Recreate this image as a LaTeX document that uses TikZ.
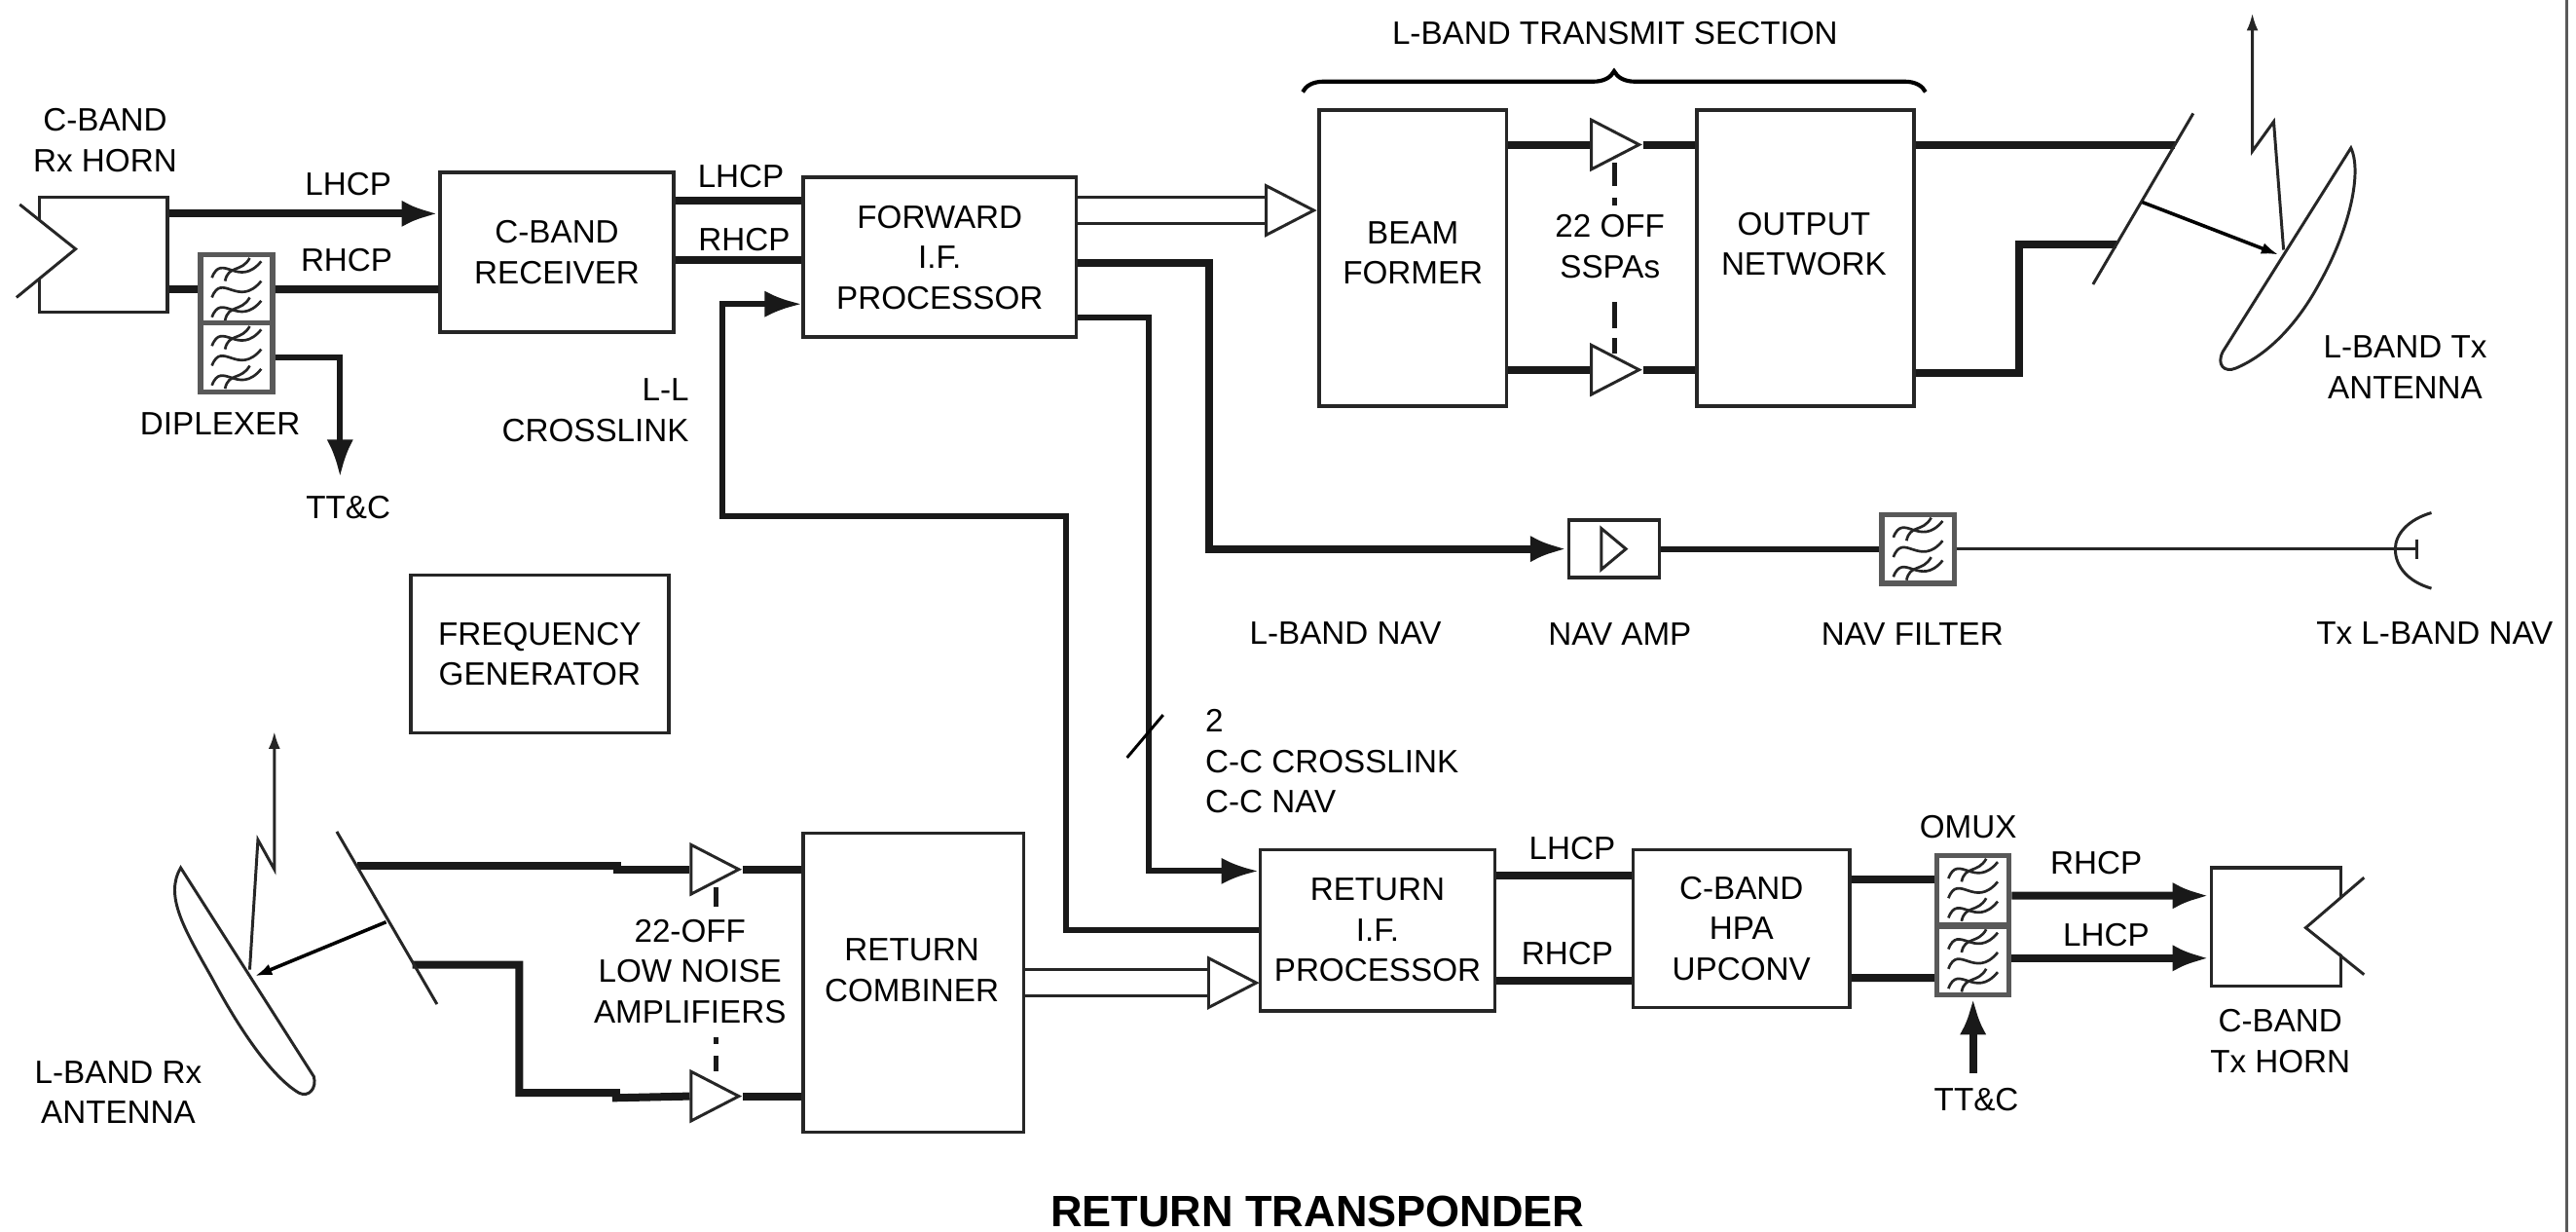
\documentclass[tikz,border=0pt]{standalone}
\usepackage{fontspec}
\setmainfont{Liberation Sans}
\usetikzlibrary{arrows.meta,calc,decorations.pathreplacing,shapes.geometric}
\tikzset{
  lbl/.style={font=\fontsize{5.6}{7}\selectfont,align=center,inner sep=0pt},
  blockbox/.style={lbl,draw=black!85,line width=.6pt},
  bus/.style={line width=1.35pt,draw=black!90},
  medbus/.style={line width=1pt,draw=black!90},
  thinline/.style={line width=.5pt,draw=black!85},
  bigtip/.style={-{Latex[length=6.4pt,width=4.6pt]}},
  smalltip/.style={-{Latex[length=3pt,width=2pt]}},
  amptri/.style={isosceles triangle,isosceles triangle stretches,draw=black!85,line width=.5pt,fill=white,minimum height=2.9mm,minimum width=3mm,inner sep=0pt,anchor=apex},
  ganged/.style={line width=.9pt,draw=black!90},
  filterbox/.style={draw=black!65,line width=.9pt,minimum width=4.4mm,minimum height=4.2mm,inner sep=0pt,fill=white,
    path picture={
      \foreach \yy in {-12,0,12}{
        \draw[black!85,line width=.45pt,shift={(path picture bounding box.center)}] (-15,\yy+5) .. controls (-9,\yy-11) and (1,\yy+12) .. (15,\yy-5);
      }
      \foreach \yy in {-12,12}{
        \draw[black!85,line width=.45pt,shift={(path picture bounding box.center)}] (-7,\yy+7) .. controls (-5,\yy-3) and (3,\yy+2) .. (8,\yy-7);
      }
    }},
}
\begin{document}
\begin{tikzpicture}[x=0.1mm,y=-0.1mm,>=Latex]
\useasboundingbox (0,0) rectangle (1568,749.6);
\node[blockbox,minimum width=7.8mm,minimum height=7mm] (rxhorn) at (63,155) {};
\node[blockbox,minimum width=14.2mm,minimum height=9.7mm] (recv) at (339,153.5) {C-BAND\\RECEIVER};
\node[blockbox,minimum width=16.6mm,minimum height=9.7mm] (fwd) at (572,156.5) {FORWARD\\I.F.\\PROCESSOR};
\node[blockbox,minimum width=11.4mm,minimum height=18mm] (beamf) at (860,157) {};
\node[blockbox,minimum width=13.2mm,minimum height=18mm] (outnet) at (1099,157) {};
\node[blockbox,minimum width=15.7mm,minimum height=9.6mm] (freqgen) at (328.5,398) {FREQUENCY\\GENERATOR};
\node[blockbox,minimum width=13.4mm,minimum height=18.2mm] (combiner) at (556,598) {};
\node[blockbox,minimum width=14.3mm,minimum height=9.8mm] (retif) at (838.5,566) {RETURN\\I.F.\\PROCESSOR};
\node[blockbox,minimum width=13.2mm,minimum height=9.6mm] (hpa) at (1060,565) {C-BAND\\HPA\\UPCONV};
\node[blockbox,minimum width=7.9mm,minimum height=7.2mm] (txhorn) at (1385.5,564) {};
\node[blockbox,minimum width=5.5mm,minimum height=3.5mm] (navamp) at (982.5,334) {};
\node[lbl] (beamftxt) at (860,154) {BEAM\\FORMER};
\node[lbl] (outnettxt) at (1098,148.5) {OUTPUT\\NETWORK};
\node[lbl] (combinertxt) at (555,590.5) {RETURN\\COMBINER};
\node[filterbox] (dipu) at (144,176) {};
\node[filterbox] (dipl) at (144,217.5) {};
\node[filterbox] (navfilt) at (1167.5,334) {};
\node[filterbox] (omuxu) at (1201,541.5) {};
\node[filterbox] (omuxl) at (1201,584.5) {};
\node[amptri] (ssp1) at (1000,88) {};
\node[amptri] (ssp2) at (1000,225) {};
\node[amptri] (lna1) at (452,529) {};
\node[amptri] (lna2) at (452,667) {};
\node[amptri] (fwdtip) at (802,128) {};
\node[amptri] (rettip) at (767,598) {};
\node[amptri,minimum height=1.5mm,minimum width=2.5mm] (navtri) at (992,334) {};
\node[lbl] (rxhornlbl) at (64,85.5) {C-BAND\\Rx HORN};
\node[lbl] (lhcpa) at (212,112) {LHCP};
\node[lbl] (rhcpa) at (211,158) {RHCP};
\node[lbl] (lhcpb) at (451,107) {LHCP};
\node[lbl] (rhcpb) at (453,146) {RHCP};
\node[lbl] (diplexerlbl) at (134,258) {DIPLEXER};
\node[lbl] (ttca) at (212,309) {TT\&C};
\node[lbl,align=right,anchor=east] (lllbl) at (420,249.5) {L-L\\CROSSLINK};
\node[lbl] (sectionlbl) at (983,20) {L-BAND TRANSMIT SECTION};
\node[lbl] (ssplbl) at (980,150) {22 OFF\\SSPAs};
\node[lbl] (txantlbl) at (1464,223.5) {L-BAND Tx\\ANTENNA};
\node[lbl] (navlbl) at (819,385) {L-BAND NAV};
\node[lbl] (navamplbl) at (986,386) {NAV AMP};
\node[lbl] (navfiltlbl) at (1164,386) {NAV FILTER};
\node[lbl] (txnavlbl) at (1482,385) {Tx L-BAND NAV};
\node[lbl,align=left,anchor=north west] (cclbl) at (733,431) {2\\C-C CROSSLINK\\C-C NAV};
\node[lbl] (lnalbl) at (420,591) {22-OFF\\LOW NOISE\\AMPLIFIERS};
\node[lbl] (rxantlbl) at (72,664.5) {L-BAND Rx\\ANTENNA};
\node[lbl] (lhcpc) at (957,516) {LHCP};
\node[lbl] (rhcpc) at (954,580) {RHCP};
\node[lbl] (omuxlbl) at (1198,503) {OMUX};
\node[lbl] (rhcpd) at (1276,525) {RHCP};
\node[lbl] (lhcpd) at (1282,569) {LHCP};
\node[lbl] (ttcb) at (1203,669) {TT\&C};
\node[lbl] (txhornlbl) at (1388,633.5) {C-BAND\\Tx HORN};
\node[font=\bfseries\fontsize{7.6}{9}\selectfont,inner sep=0pt] (titlelbl) at (802,737) {RETURN TRANSPONDER};
\coordinate (ttcain) at (207,290);
\coordinate (ttcbout) at (1201,653);
\coordinate (txreftop) at (1324,88);
\coordinate (txrefbot) at (1288,148.5);
\coordinate (rxreftop) at (217.5,527);
\coordinate (rxrefbot) at (251,587);
\coordinate (txnavfeed) at (1471,334);
% edge rule
\draw[line width=.55pt,draw=black!65] (1562.5,0) -- (1562.5,749.6);
% horns
\fill[white] (rxhorn.north west)++(-1,14) -- (46,151.5) -- (23,169.5) -- cycle;
\draw[thinline] (12,124.4) -- (46,151.5) -- (10,181);
\fill[white] (txhorn.north east)++(1,18) -- (1403.5,564.5) -- (1426,581) -- cycle;
\draw[thinline] (1439,534) -- (1403.5,564.5) -- (1439,593);
% forward path
\draw[bus,bigtip] ($(rxhorn.east)+(0,-25)$) -- ($(recv.west)+(0,-23.5)$);
\draw[bus] ($(rxhorn.east)+(0,21)$) -- (dipu.west);
\draw[bus] (dipu.east) -- ($(recv.west)+(0,22.5)$);
\draw[medbus,bigtip] (dipl.east) -| (ttcain);
\draw[bus] ($(recv.east)+(0,-31.5)$) -- ($(fwd.west)+(0,-34.5)$);
\draw[bus] ($(recv.east)+(0,4.5)$) -- ($(fwd.west)+(0,1.5)$);
\draw[medbus,bigtip] (retif.west) -- ++(-117,0) -- ++(0,-252) -- ++(-209,0) |- ($(fwd.west)+(0,28.5)$);
\draw[thinline] ($(fwd.east)+(0,-36.5)$) -- ($(fwdtip.lower side)+(0,-8)$);
\draw[thinline] ($(fwd.east)+(0,-20.5)$) -- ($(fwdtip.lower side)+(0,8)$);
\draw[bus,bigtip] ($(fwd.east)+(0,3.5)$) -- ++(80,0) |- (navamp.west);
\draw[medbus,bigtip] ($(fwd.east)+(0,36.5)$) -- ++(43,0) |- ($(retif.west)+(0,-36)$);
\draw[line width=.5pt] (686,461) -- (708,435);
% L-band transmit
\draw[bus] ($(beamf.east)+(0,-69)$) -- (ssp1.lower side);
\draw[bus] (ssp1.apex) -- ($(outnet.west)+(0,-69)$);
\draw[bus] ($(beamf.east)+(0,68)$) -- (ssp2.lower side);
\draw[bus] (ssp2.apex) -- ($(outnet.west)+(0,68)$);
\draw[ganged,dash pattern=on 4pt off 2pt on 1.4pt off 16.7pt on 4.5pt off 1.7pt on 2.8pt] ($(ssp1.lower side)+(15,11)$) -- ($(ssp2.lower side)+(15,-9)$);
\draw[line width=.7pt,decorate,decoration={brace,amplitude=3.6pt}] ($(beamf.north west)+(-9,-10)$) -- ($(outnet.north east)+(6,-10)$);
\draw[bus] ($(outnet.east)+(0,-69)$) -- (txreftop);
\draw[bus] ($(outnet.east)+(0,70)$) -- ++(63,0) |- (txrefbot);
\draw[thinline] (1335,69) -- (1274,173);
\draw[line width=.6pt,smalltip] (1304,123) -- (1387,155);
\draw[thinline] (1431,90) -- (1353,214) .. controls (1349,222) and (1354,227) .. (1361,224) .. controls (1380,216) and (1398,198) .. (1412,172) .. controls (1430,140) and (1438,105) .. cycle;
\draw[thinline,smalltip] (1390,152) -- (1384,74) -- (1371,92) -- (1371,8);
% nav
\draw[medbus] (navamp.east) -- (navfilt.west);
\draw[thinline] (navfilt.east) -- (txnavfeed);
\draw[thinline] (1471,328) -- (txnavfeed) -- (1471,340);
\draw[thinline] (1480,312) .. controls (1466,316) and (1458,325) .. (1458,334) .. controls (1458,345) and (1466,354) .. (1480,358);
% return path
\draw[bus] (rxreftop) -- ++(158,0) -- ++(0,2) -- (lna1.lower side);
\draw[bus] (lna1.apex) -- ($(combiner.west)+(0,-69)$);
\draw[bus] (rxrefbot) -- ++(65,0) -- ++(0,78) -- ++(59,0) -- ++(0,3) -- (lna2.lower side);
\draw[bus] (lna2.apex) -- ($(combiner.west)+(0,69)$);
\draw[ganged,dash pattern=on 3.4pt off 22.5pt on 1.2pt off 2pt on 2.8pt] ($(lna1.lower side)+(16,11)$) -- ($(lna2.lower side)+(16,-14)$);
\draw[thinline] (205,506) -- (266,611);
\draw[line width=.6pt,smalltip] (235,561) -- (155,594);
\draw[thinline] (110,528) -- (191,655) .. controls (193,662) and (188,668) .. (182,665) .. controls (165,655) and (145,625) .. (129,595) .. controls (112,565) and (100,545) .. cycle;
\draw[thinline,smalltip] (152,590) -- (157,511) -- (167,529) -- (167,445);
\draw[thinline] ($(combiner.east)+(0,-8)$) -- ($(rettip.lower side)+(0,-8)$);
\draw[thinline] ($(combiner.east)+(0,8)$) -- ($(rettip.lower side)+(0,8)$);
\draw[bus] ($(retif.east)+(0,-33)$) -- ($(hpa.west)+(0,-32)$);
\draw[bus] ($(retif.east)+(0,31)$) -- ($(hpa.west)+(0,32)$);
\draw[bus] ($(hpa.east)+(0,-30)$) -- ($(omuxu.west)+(0,-6.5)$);
\draw[bus] ($(hpa.east)+(0,30)$) -- ($(omuxl.west)+(0,10.5)$);
\draw[bus,bigtip] ($(omuxu.east)+(0,3.5)$) -- ($(txhorn.west)+(0,-19)$);
\draw[bus,bigtip] ($(omuxl.east)+(0,-1.5)$) -- ($(txhorn.west)+(0,19)$);
\draw[bus,bigtip] (ttcbout) -- (omuxl.south);
\end{tikzpicture}
\end{document}
